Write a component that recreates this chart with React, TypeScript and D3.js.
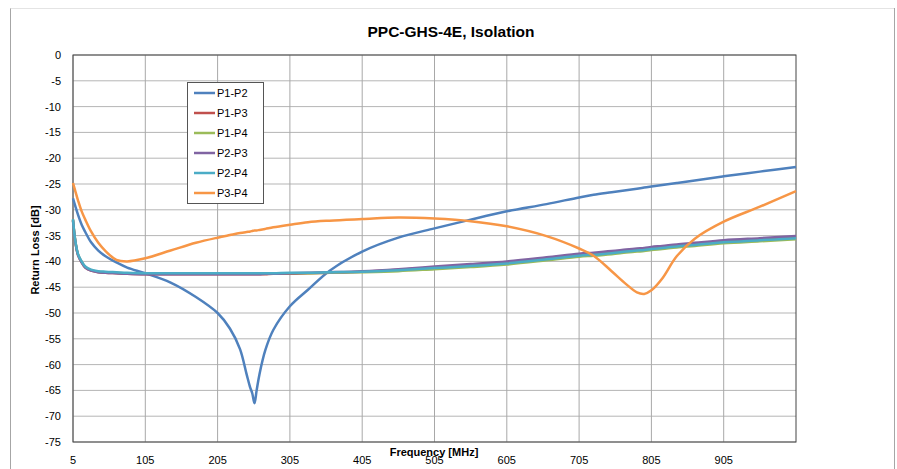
import React from "react";
import * as d3 from "d3";

const freqs = [5, 8, 12, 17, 22, 30, 40, 50, 65, 80, 105, 140, 175, 205, 222, 236, 245, 250, 253, 256, 259, 263, 271, 282, 305, 330, 360, 405, 455, 505, 555, 605, 660, 705, 725, 750, 770, 785, 795, 805, 820, 840, 865, 905, 955, 1005];

const p1p2 = [-27.8, -29.2, -31.0, -32.9, -34.3, -36.3, -37.9, -39.0, -40.2, -41.2, -42.3, -44.1, -46.9, -50.0, -53.0, -57.0, -61.8, -64.4, -65.6, -67.5, -65.0, -61.8, -57.2, -53.3, -48.7, -45.5, -41.8, -38.1, -35.4, -33.6, -31.9, -30.3, -28.9, -27.6, -27.1, -26.6, -26.2, -25.9, -25.7, -25.5, -25.2, -24.8, -24.3, -23.5, -22.6, -21.7];
const p1p3 = [-32.0, -35.9, -38.8, -40.2, -41.2, -41.8, -42.1, -42.2, -42.3, -42.4, -42.5, -42.5, -42.5, -42.5, -42.5, -42.5, -42.5, -42.5, -42.5, -42.5, -42.5, -42.5, -42.5, -42.4, -42.4, -42.3, -42.2, -42.0, -41.6, -41.2, -40.7, -40.2, -39.4, -38.7, -38.5, -38.2, -37.9, -37.7, -37.6, -37.4, -37.2, -36.9, -36.6, -36.1, -35.7, -35.3];
const p1p4 = [-31.9, -35.9, -38.7, -40.1, -41.1, -41.7, -42.0, -42.1, -42.2, -42.3, -42.3, -42.3, -42.3, -42.3, -42.3, -42.3, -42.3, -42.3, -42.3, -42.3, -42.3, -42.3, -42.3, -42.3, -42.3, -42.3, -42.2, -42.1, -41.9, -41.5, -41.1, -40.6, -39.8, -39.1, -38.9, -38.6, -38.3, -38.1, -38.0, -37.8, -37.6, -37.3, -37.0, -36.5, -36.1, -35.7];
const p2p3 = [-32.1, -36.0, -38.8, -40.2, -41.2, -41.8, -42.1, -42.2, -42.3, -42.4, -42.5, -42.5, -42.5, -42.5, -42.5, -42.5, -42.5, -42.5, -42.5, -42.5, -42.5, -42.5, -42.4, -42.4, -42.3, -42.2, -42.1, -41.9, -41.5, -41.0, -40.5, -40.0, -39.2, -38.5, -38.3, -38.0, -37.7, -37.5, -37.4, -37.2, -37.0, -36.7, -36.4, -35.9, -35.5, -35.1];
const p2p4 = [-31.8, -35.8, -38.6, -40.0, -41.0, -41.6, -41.9, -42.0, -42.1, -42.2, -42.3, -42.3, -42.3, -42.3, -42.3, -42.3, -42.3, -42.3, -42.3, -42.3, -42.3, -42.3, -42.3, -42.3, -42.2, -42.2, -42.1, -42.0, -41.7, -41.3, -40.9, -40.4, -39.6, -38.9, -38.7, -38.4, -38.1, -37.9, -37.8, -37.6, -37.4, -37.1, -36.8, -36.3, -35.9, -35.5];
const p3p4 = [-24.8, -26.3, -28.2, -30.3, -31.9, -34.2, -36.4, -38.0, -39.7, -40.0, -39.4, -37.9, -36.4, -35.4, -34.9, -34.5, -34.3, -34.2, -34.1, -34.0, -34.0, -33.9, -33.7, -33.4, -32.9, -32.4, -32.1, -31.8, -31.5, -31.7, -32.2, -33.2, -35.1, -37.5, -38.9, -41.9, -44.4, -46.0, -46.3, -45.6, -43.3, -39.0, -35.6, -32.3, -29.4, -26.4];

const seriesNames = ["P1-P2", "P1-P3", "P1-P4", "P2-P3", "P2-P4", "P3-P4"];
const seriesValues = [p1p2, p1p3, p1p4, p2p3, p2p4, p3p4];
const seriesColors = ["#4F81BD", "#C0504D", "#9BBB59", "#8064A2", "#4BACC6", "#F79646"];

const xTicks = [5, 105, 205, 305, 405, 505, 605, 705, 805, 905];
const yTicks = [0, -5, -10, -15, -20, -25, -30, -35, -40, -45, -50, -55, -60, -65, -70, -75];

const W = 897;
const H = 469;
const M = { left: 73, top: 55, right: 796, bottom: 442 };
const FONT = "'Liberation Sans', Arial, sans-serif";

export default function App() {
  const x = d3.scaleLinear().domain([5, 1005]).range([M.left, M.right]);
  const y = d3.scaleLinear().domain([0, -75]).range([M.top, M.bottom]);
  const line = d3
    .line<number>()
    .x((_, i) => x(freqs[i]))
    .y((d) => y(d))
    .curve(d3.curveCatmullRom.alpha(0.5));

  const legX = 187;
  const legY = 82;
  const legW = 76;
  const legH = 121;

  return (
    <svg
      width={W}
      height={H}
      style={{ position: "absolute", left: 0, top: 0, display: "block", background: "#fff" }}
      fontFamily={FONT}
    >
      <rect x={0} y={0} width={W} height={H} fill="#fff" />
      {/* outer chart border */}
      <line x1={10.5} y1={8} x2={10.5} y2={H} stroke="#a6a6a6" />
      <line x1={10.5} y1={8.5} x2={894.5} y2={8.5} stroke="#e4e4e4" />
      <line x1={894.5} y1={8} x2={894.5} y2={H} stroke="#a6a6a6" />

      {/* title */}
      <text x={451} y={37} textAnchor="middle" fontSize={15.5} fontWeight="bold" fill="#000">
        PPC-GHS-4E, Isolation
      </text>

      {/* grid */}
      {yTicks.map((t) => (
        <line key={"gy" + t} x1={M.left} x2={M.right} y1={y(t)} y2={y(t)} stroke="#b5b5b5" strokeWidth={1} />
      ))}
      {xTicks.map((t) => (
        <line key={"gx" + t} x1={x(t)} x2={x(t)} y1={M.top} y2={M.bottom} stroke="#a8a8a8" strokeWidth={1} />
      ))}
      <rect x={M.left} y={M.top} width={M.right - M.left} height={M.bottom - M.top} fill="none" stroke="#444" strokeWidth={1} />

      {/* y tick labels */}
      {yTicks.map((t) => (
        <text key={"ty" + t} x={61} y={y(t) + 4} textAnchor="end" fontSize={11} fill="#000">
          {t}
        </text>
      ))}
      {/* x tick labels */}
      {xTicks.map((t) => (
        <text key={"tx" + t} x={x(t)} y={464} textAnchor="middle" fontSize={11} fill="#000">
          {t}
        </text>
      ))}

      {/* series */}
      {seriesValues.map((vals, i) => (
        <path key={seriesNames[i]} d={line(vals) || ""} fill="none" stroke={seriesColors[i]} strokeWidth={2.5} strokeLinejoin="round" />
      ))}

      {/* axis titles */}
      <text x={434} y={456} textAnchor="middle" fontSize={11} fontWeight="bold" fill="#000">
        Frequency [MHz]
      </text>
      <text transform="translate(39,250) rotate(-90)" textAnchor="middle" fontSize={11} fontWeight="bold" fill="#000">
        Return Loss [dB]
      </text>

      {/* legend */}
      <rect x={legX + 0.5} y={legY + 0.5} width={legW} height={legH} fill="#fff" stroke="#555" strokeWidth={1} />
      {seriesNames.map((n, i) => {
        const cy = legY + 11 + i * 20;
        return (
          <g key={"lg" + n}>
            <line x1={194} x2={215} y1={cy} y2={cy} stroke={seriesColors[i]} strokeWidth={2.5} />
            <text x={217} y={cy + 4} fontSize={11} fill="#000">
              {n}
            </text>
          </g>
        );
      })}
    </svg>
  );
}
